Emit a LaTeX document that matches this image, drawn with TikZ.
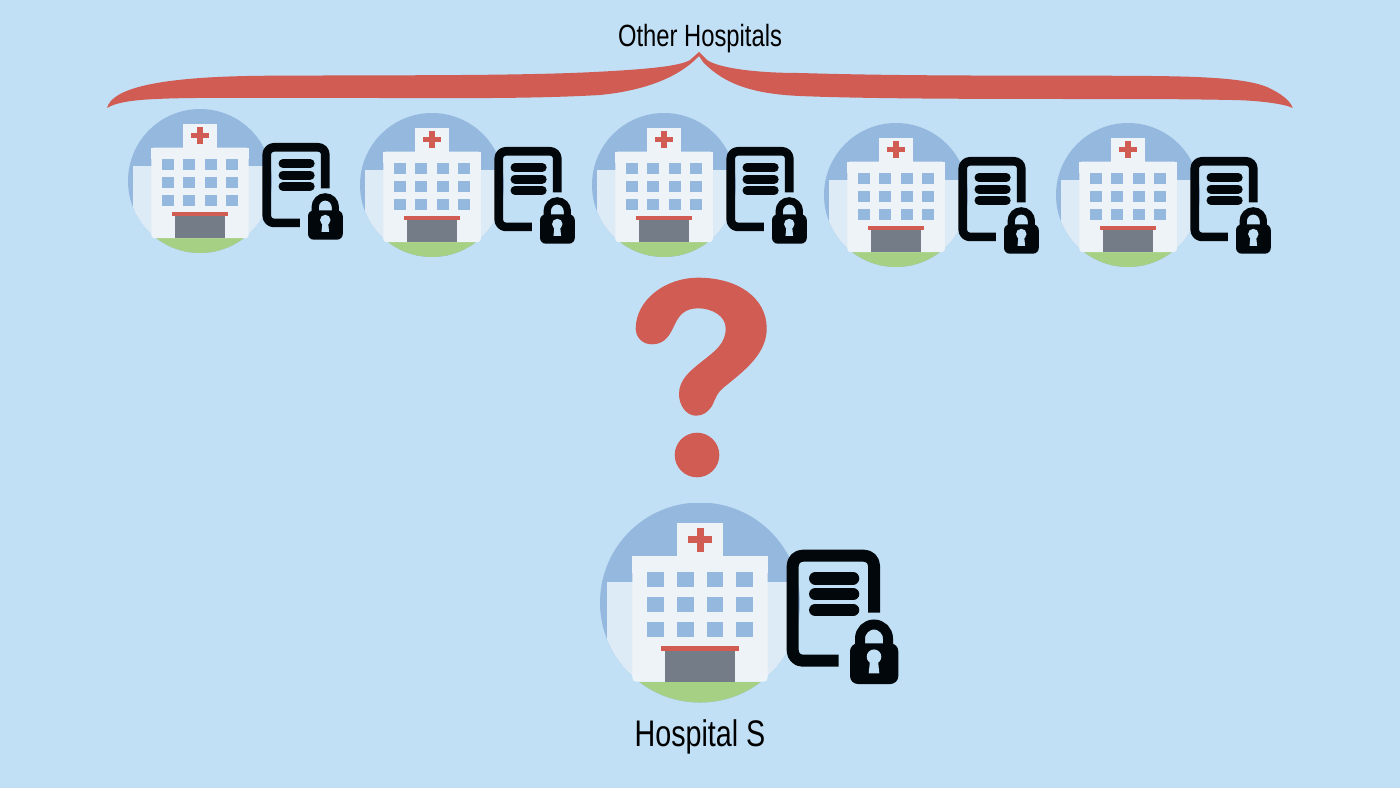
\documentclass[tikz,border=0pt]{standalone}
\usepackage{fontspec}
\setmainfont[FakeStretch=0.775]{Liberation Sans}
\definecolor{bgblue}{HTML}{C1E0F5}
\definecolor{skyblue}{HTML}{95B8DE}
\definecolor{sidewing}{HTML}{DDEBF6}
\definecolor{wall}{HTML}{EEF3F7}
\definecolor{redc}{HTML}{D05C53}
\definecolor{doorc}{HTML}{747C87}
\definecolor{grass}{HTML}{A6D083}
\definecolor{inkc}{HTML}{02070B}
\tikzset{
  label text/.style={inner sep=0pt,text=black},
  ink line/.style={draw=inkc,line cap=butt,line join=round},
}
\newcommand{\hospitalicon}[3]{%
\begin{scope}[shift={(#1,#2)},scale=#3]
  \begin{scope}
    \clip (0,0) circle (100);
    \fill[skyblue] (-100,-100) rectangle (100,100);
    \fill[sidewing] (-92.7,-20.8) rectangle (92.7,80);
    \fill[grass] (-100,79.2) rectangle (100,100);
  \end{scope}
  \fill[wall] (-23,-79.8) rectangle (23.3,-46);
  \fill[wall,rounded corners=#3*4pt] (-67.7,-46.5) -- (67.7,-46.5) -- (67.7,79.2) -- (-67.7,79.2) -- cycle;
  \fill[wall] (-67.7,-46.5) rectangle (67.7,-30);
  \fill[redc] (-12,-66.5) rectangle (12,-59.1);
  \fill[redc] (-3.5,-74.8) rectangle (3.5,-50.8);
  \foreach \wx in {-53,-23,6.7,36.3}{
    \foreach \wy in {-30.8,-5.8,19.5}{
      \fill[skyblue] (\wx,\wy) rectangle ++(16.5,15);
    }
  }
  \fill[doorc] (-35,48.5) rectangle (35.3,79.2);
  \fill[redc] (-39,43) rectangle (39,48.5);
  % document
  \draw[ink line,line width=#3*12pt,rounded corners=#3*10pt]
    (174,10.2) -- (174,-46.8) -- (92.7,-46.8) -- (92.7,58.2) -- (138.7,58.2);
  \foreach \ly in {-24.2,-8.3,7.5}{
    \draw[draw=inkc,line width=#3*12.5pt,line cap=round] (115.3,\ly) -- (153,\ly);
  }
  % padlock
  \draw[draw=inkc,line width=#3*10pt] (160,46) -- (160,36) arc (180:360:14) -- (188,46);
  \fill[inkc,rounded corners=#3*8pt] (150,40.8) rectangle (198.3,81.5);
  \fill[bgblue] (168.7,70.8) -- (170,58) -- (178,58) -- (179.3,70.8) -- cycle;
  \fill[bgblue] (174,54.2) circle (7.3);
\end{scope}}
\begin{document}
\begin{tikzpicture}[x=1pt,y=-1pt]
  \useasboundingbox (0,0) rectangle (1400,788);
  \fill[bgblue] (0,0) rectangle (1400,788);
  % brace
  \fill[redc] (107,108)
    .. controls (112,90) and (150,76) .. (273,75.7)
    .. controls (400,75) and (520,76) .. (600,71.7)
    .. controls (650,69) and (680,66) .. (690,60)
    -- (699,52) -- (707,60)
    .. controls (717,67) and (750,73) .. (800,73)
    .. controls (900,76) and (1000,75.5) .. (1100,75.7)
    .. controls (1180,76) and (1240,76) .. (1267,87)
    .. controls (1280,93) and (1290,100) .. (1292.7,108)
    .. controls (1285,104) and (1260,100.5) .. (1233,100)
    .. controls (1180,99) and (1140,99) .. (1100,99)
    .. controls (1000,99) and (870,99) .. (800,96)
    .. controls (755,94) and (725,85) .. (703,62)
    -- (699,56) -- (697,58)
    .. controls (680,75) and (650,90) .. (600,95)
    .. controls (530,99) and (450,98) .. (390,98)
    .. controls (300,98) and (190,97) .. (157,99)
    .. controls (130,100) and (115,103) .. (107,108) -- cycle;
  % question mark
  \fill[redc] (635.7,328.3)
    .. controls (636,300) and (665,277.7) .. (698.3,277.7)
    .. controls (738,277.7) and (766.7,298) .. (766.7,328.3)
    .. controls (766.7,352) and (748,368) .. (726.7,385)
    .. controls (716,393) and (716,398) .. (712,406)
    .. controls (708,412) and (703,415.7) .. (696,415.7)
    .. controls (686,415.7) and (679,405) .. (679,394)
    .. controls (679,380) and (690,371) .. (700,363)
    .. controls (715,351) and (725.7,344) .. (725.7,328.3)
    .. controls (725.7,316) and (712,308.3) .. (698.3,308.3)
    .. controls (684,308.3) and (679,316) .. (675,324)
    .. controls (670,335) and (665,344.3) .. (652,344.3)
    .. controls (642,344.3) and (635.7,337) .. (635.7,328.3) -- cycle;
  \fill[redc] (697,455) circle (22.3);
  % hospitals
  \hospitalicon{200}{181}{0.72}
  \hospitalicon{432}{185}{0.72}
  \hospitalicon{664}{185}{0.72}
  \hospitalicon{896}{195}{0.72}
  \hospitalicon{1128}{195}{0.72}
  \hospitalicon{700}{602.5}{1}
  \node[label text,font=\fontsize{30.7pt}{32pt}\selectfont] (other) at (700,39) {Other Hospitals};
  \node[label text,font=\fontsize{37pt}{40pt}\selectfont] (hosps) at (700,737) {Hospital S};
\end{tikzpicture}
\end{document}
